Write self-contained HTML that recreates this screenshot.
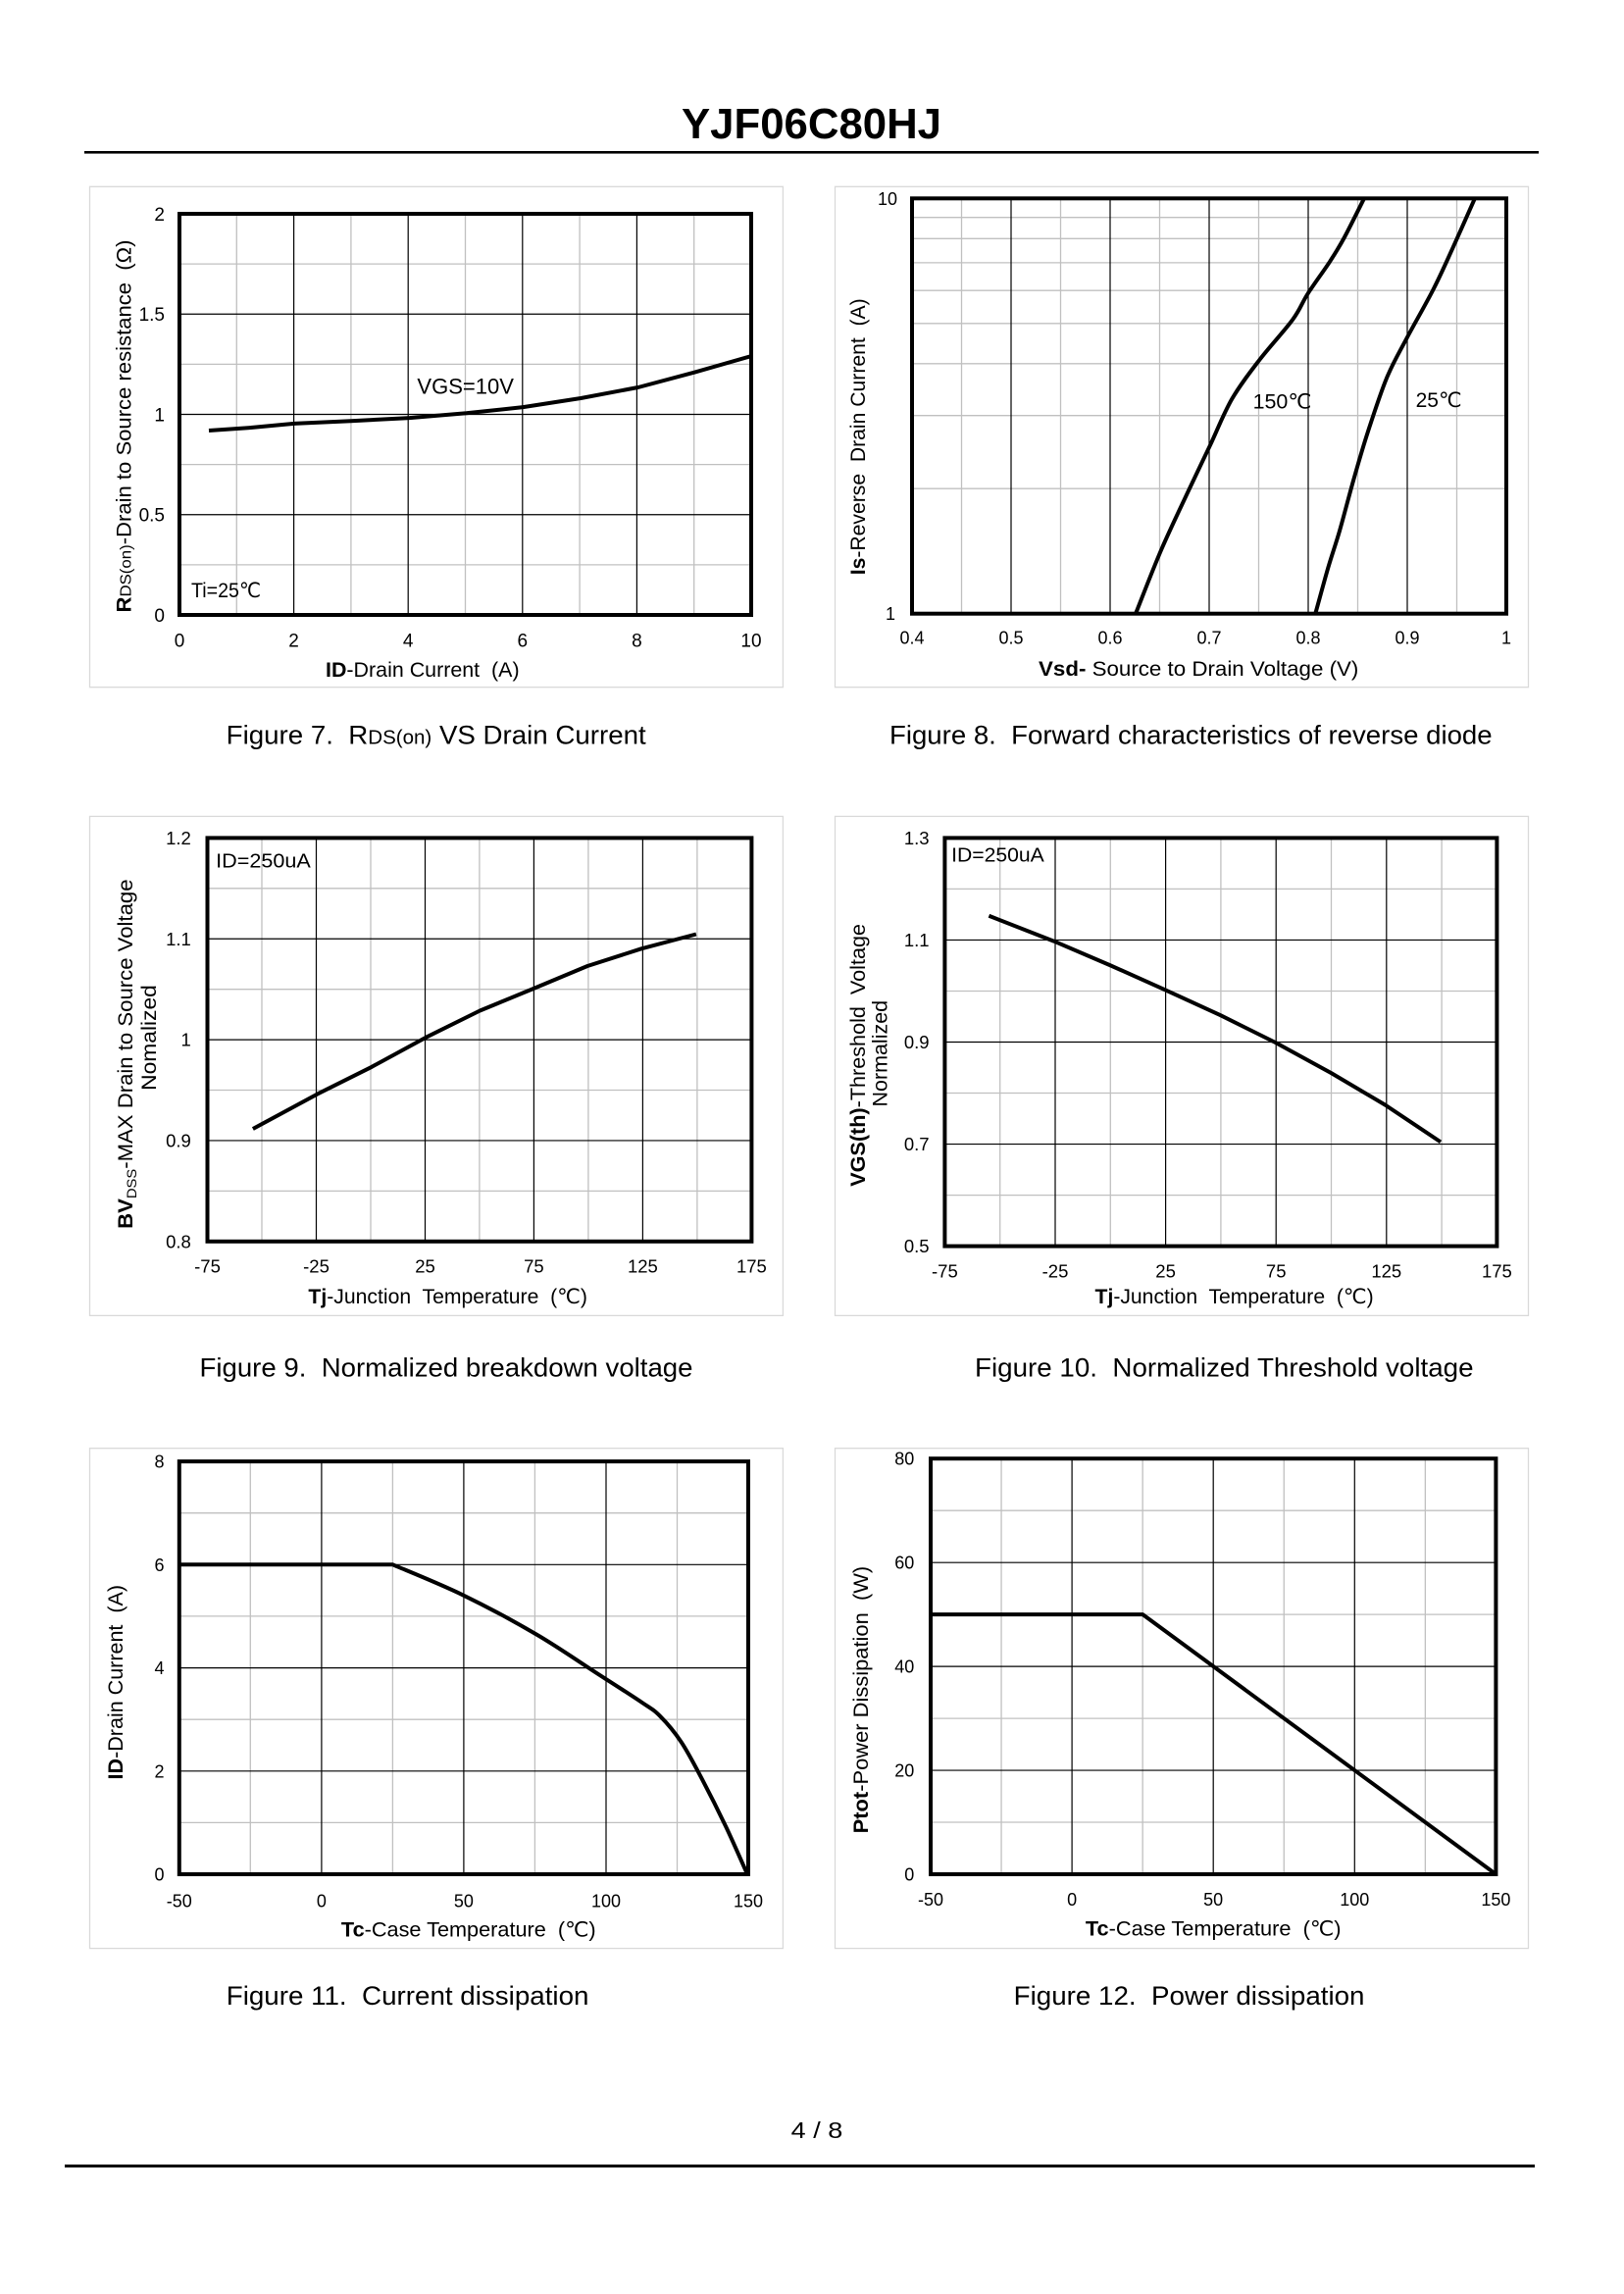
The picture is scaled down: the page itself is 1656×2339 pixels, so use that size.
<!DOCTYPE html>
<html><head><meta charset="utf-8"><title>YJF06C80HJ</title>
<style>
html,body{margin:0;padding:0;background:#fff;}
svg{display:block;}
text{font-family:"Liberation Sans","DejaVu Sans","Noto Sans CJK SC",sans-serif;fill:#000;}
.mn{stroke:#c0c0c0;stroke-width:1.3;fill:none;}
.mj{stroke:#000;stroke-width:1.2;fill:none;}
.bx{fill:none;stroke:#d9d9d9;stroke-width:1.3;}
.pl{fill:none;stroke:#000;stroke-width:4;}
.cv{fill:none;stroke:#000;stroke-width:4;stroke-linejoin:round;}
</style></head><body>
<svg width="1656" height="2339" viewBox="0 0 1656 2339" xmlns="http://www.w3.org/2000/svg">
<rect width="1656" height="2339" fill="#fff"/>

<!-- Header -->
<text x="827.5" y="141" text-anchor="middle" font-size="44" font-weight="bold" textLength="265" lengthAdjust="spacingAndGlyphs">YJF06C80HJ</text>
<rect x="86" y="154" width="1483" height="2.6" fill="#000"/>

<!-- ===== Chart 7 ===== -->
<rect class="bx" x="91.5" y="190.3" width="706.9" height="510.4"/>
<path class="mn" d="M241.3 218V627M357.9 218V627M474.5 218V627M591.1 218V627M707.7 218V627M183 575.9H766M183 473.6H766M183 371.4H766M183 269.1H766"/>
<path class="mj" d="M299.6 218V627M416.2 218V627M532.8 218V627M649.4 218V627M183 524.75H766M183 422.5H766M183 320.25H766"/>
<polyline class="cv" points="213,439 256,436 300,431.9 358,429.2 417.7,426.1 475.6,421.3 533.4,415.1 592.3,406 650.6,395 708,379.7 766.4,363"/>
<rect class="pl" x="183" y="218" width="583" height="409"/>
<g font-size="19" text-anchor="end">
<text x="168" y="633.8">0</text><text x="168" y="531.5">0.5</text><text x="168" y="429.3">1</text><text x="168" y="327">1.5</text><text x="168" y="224.8">2</text>
</g>
<g font-size="19" text-anchor="middle">
<text x="183" y="659.5">0</text><text x="299.6" y="659.5">2</text><text x="416.2" y="659.5">4</text><text x="532.8" y="659.5">6</text><text x="649.4" y="659.5">8</text><text x="766" y="659.5">10</text>
</g>
<text x="430.8" y="690" text-anchor="middle" font-size="21" textLength="197.6" lengthAdjust="spacingAndGlyphs"><tspan font-weight="bold">ID</tspan>-Drain Current&#160; (A)</text>
<text transform="translate(133.5,434.5) rotate(-90)" text-anchor="middle" font-size="21" textLength="380" lengthAdjust="spacingAndGlyphs"><tspan font-weight="bold">R</tspan><tspan font-size="16">DS(on)</tspan>-Drain to Source resistance&#160; (Ω)</text>
<text x="425.4" y="401.3" font-size="22" textLength="98.6" lengthAdjust="spacingAndGlyphs">VGS=10V</text>
<text x="195" y="609" font-size="21" textLength="71" lengthAdjust="spacingAndGlyphs">Ti=25℃</text>
<text x="444.7" y="758.5" text-anchor="middle" font-size="27" textLength="428" lengthAdjust="spacingAndGlyphs">Figure 7.&#160; R<tspan font-size="20">DS(on)</tspan> VS Drain Current</text>

<!-- ===== Chart 8 ===== -->
<rect class="bx" x="851.5" y="190.3" width="707" height="510.4"/>
<path class="mn" d="M980.5 202.3V625.7M1081.5 202.3V625.7M1182.5 202.3V625.7M1283.5 202.3V625.7M1384.5 202.3V625.7M1485.5 202.3V625.7M930 498.2H1536M930 423.7H1536M930 370.8H1536M930 329.8H1536M930 296.2H1536M930 267.9H1536M930 243.3H1536M930 221.7H1536"/>
<path class="mj" d="M1031 202.3V625.7M1132 202.3V625.7M1233 202.3V625.7M1334 202.3V625.7M1435 202.3V625.7"/>
<path class="cv" d="M1158.1 625.6C1162.5 614.7 1175.2 581.3 1184.4 560C1193.6 538.7 1204.9 515.4 1213.1 497.9C1221.3 480.4 1226.4 470 1233.6 454.8C1240.8 439.7 1247.6 421.8 1256.1 407C1264.6 392.3 1274.4 379.9 1284.8 366.3C1295.2 352.8 1310.2 336.9 1318.3 325.7C1326.4 314.6 1327.2 309.4 1333.6 299.4C1340 289.4 1350.4 275.5 1356.6 265.9C1362.8 256.3 1365.2 252.6 1370.9 242C1376.6 231.4 1387.7 208.9 1391 202.3"/>
<path class="cv" d="M1341.3 625.6C1343.5 617.9 1350.1 593.3 1354.2 579.2C1358.3 565.1 1361.7 556.1 1366.1 540.9C1370.5 525.8 1375.7 505 1380.5 488.3C1385.3 471.6 1389.2 457.6 1394.8 440.5C1400.4 423.4 1407.4 401.5 1414 385.5C1420.6 369.6 1426.5 360 1434.5 344.8C1442.5 329.7 1454.1 309.8 1461.8 294.6C1469.5 279.5 1473.9 269.3 1480.9 253.9C1487.9 238.5 1500.1 210.9 1503.9 202.3"/>
<rect class="pl" x="930" y="202.3" width="606" height="423.4"/>
<text x="915" y="208.8" font-size="18" text-anchor="end">10</text>
<text x="913" y="632.2" font-size="18" text-anchor="end">1</text>
<g font-size="18" text-anchor="middle">
<text x="930" y="656.5">0.4</text><text x="1031" y="656.5">0.5</text><text x="1132" y="656.5">0.6</text><text x="1233" y="656.5">0.7</text><text x="1334" y="656.5">0.8</text><text x="1435" y="656.5">0.9</text><text x="1536" y="656.5">1</text>
</g>
<text x="1222.2" y="689.2" text-anchor="middle" font-size="21" textLength="326.3" lengthAdjust="spacingAndGlyphs"><tspan font-weight="bold">Vsd-</tspan> Source to Drain Voltage (V)</text>
<text transform="translate(882,445.3) rotate(-90)" text-anchor="middle" font-size="21" textLength="282" lengthAdjust="spacingAndGlyphs"><tspan font-weight="bold">Is</tspan>-Reverse&#160; Drain Current&#160; (A)</text>
<text x="1277.6" y="416.6" font-size="21" textLength="59.8" lengthAdjust="spacingAndGlyphs">150℃</text>
<text x="1443.6" y="415" font-size="21" textLength="47" lengthAdjust="spacingAndGlyphs">25℃</text>
<text x="1214.3" y="758.5" text-anchor="middle" font-size="27" textLength="614.6" lengthAdjust="spacingAndGlyphs">Figure 8.&#160; Forward characteristics of reverse diode</text>

<!-- ===== Chart 9 ===== -->
<rect class="bx" x="91.5" y="832.4" width="706.9" height="509"/>
<path class="mn" d="M267 854.4V1265.8M378 854.4V1265.8M488.9 854.4V1265.8M599.9 854.4V1265.8M710.9 854.4V1265.8M211.5 1214.4H766.4M211.5 1111.5H766.4M211.5 1008.7H766.4M211.5 905.8H766.4"/>
<path class="mj" d="M322.5 854.4V1265.8M433.5 854.4V1265.8M544.4 854.4V1265.8M655.4 854.4V1265.8M211.5 1162.95H766.4M211.5 1060.1H766.4M211.5 957.25H766.4"/>
<polyline class="cv" points="257.9,1151 323.5,1115.6 378.9,1087.9 434.4,1057.7 489.4,1030.5 544,1008 599,985 654,967.3 709.9,952.5"/>
<rect class="pl" x="211.5" y="854.4" width="554.9" height="411.4"/>
<g font-size="18.5" text-anchor="end">
<text x="194.8" y="1272.4">0.8</text><text x="194.8" y="1169.6">0.9</text><text x="194.8" y="1066.7">1</text><text x="194.8" y="963.9">1.1</text><text x="194.8" y="861">1.2</text>
</g>
<g font-size="18.5" text-anchor="middle">
<text x="211.5" y="1297.6">-75</text><text x="322.5" y="1297.6">-25</text><text x="433.5" y="1297.6">25</text><text x="544.4" y="1297.6">75</text><text x="655.4" y="1297.6">125</text><text x="766.4" y="1297.6">175</text>
</g>
<text x="456.7" y="1329" text-anchor="middle" font-size="21" textLength="284.6" lengthAdjust="spacingAndGlyphs"><tspan font-weight="bold">Tj</tspan>-Junction&#160; Temperature&#160; (℃)</text>
<text transform="translate(135,1074.7) rotate(-90)" text-anchor="middle" font-size="21" textLength="356.4" lengthAdjust="spacingAndGlyphs"><tspan font-weight="bold">BV</tspan><tspan font-size="14" dy="4">DSS</tspan><tspan dy="-4">-MAX Drain to Source Voltage</tspan></text>
<text transform="translate(159,1058) rotate(-90)" text-anchor="middle" font-size="21" textLength="107.7" lengthAdjust="spacingAndGlyphs">Nomalized</text>
<text x="220.1" y="884.6" font-size="20" textLength="96.7" lengthAdjust="spacingAndGlyphs">ID=250uA</text>
<text x="455" y="1403.5" text-anchor="middle" font-size="27" textLength="503" lengthAdjust="spacingAndGlyphs">Figure 9.&#160; Normalized breakdown voltage</text>

<!-- ===== Chart 10 ===== -->
<rect class="bx" x="851.5" y="832.4" width="707" height="509"/>
<path class="mn" d="M1019.7 854.4V1270.6M1132.3 854.4V1270.6M1244.9 854.4V1270.6M1357.5 854.4V1270.6M1470.1 854.4V1270.6M963.4 1218.6H1526.4M963.4 1114.5H1526.4M963.4 1010.5H1526.4M963.4 906.4H1526.4"/>
<path class="mj" d="M1076 854.4V1270.6M1188.6 854.4V1270.6M1301.2 854.4V1270.6M1413.8 854.4V1270.6M963.4 1166.55H1526.4M963.4 1062.5H1526.4M963.4 958.45H1526.4"/>
<polyline class="cv" points="1008.4,933.8 1074.8,959.7 1131.8,984.1 1187.3,1008.9 1244.6,1035.2 1300.6,1063 1357.5,1094.1 1412.5,1126.6 1469,1164.4"/>
<rect class="pl" x="963.4" y="854.4" width="563" height="416.2"/>
<g font-size="18.5" text-anchor="end">
<text x="947.6" y="1277.2">0.5</text><text x="947.6" y="1173.1">0.7</text><text x="947.6" y="1069.1">0.9</text><text x="947.6" y="965.1">1.1</text><text x="947.6" y="861">1.3</text>
</g>
<g font-size="18.5" text-anchor="middle">
<text x="963.4" y="1302.5">-75</text><text x="1076" y="1302.5">-25</text><text x="1188.6" y="1302.5">25</text><text x="1301.2" y="1302.5">75</text><text x="1413.8" y="1302.5">125</text><text x="1526.4" y="1302.5">175</text>
</g>
<text x="1258.6" y="1329" text-anchor="middle" font-size="21" textLength="284.1" lengthAdjust="spacingAndGlyphs"><tspan font-weight="bold">Tj</tspan>-Junction&#160; Temperature&#160; (℃)</text>
<text transform="translate(882,1075.9) rotate(-90)" text-anchor="middle" font-size="21" textLength="267.8" lengthAdjust="spacingAndGlyphs"><tspan font-weight="bold">VGS(th)</tspan>-Threshold&#160; Voltage</text>
<text transform="translate(904.5,1074.2) rotate(-90)" text-anchor="middle" font-size="21" textLength="108.6" lengthAdjust="spacingAndGlyphs">Normalized</text>
<text x="970.1" y="878.4" font-size="20" textLength="94.7" lengthAdjust="spacingAndGlyphs">ID=250uA</text>
<text x="1248.3" y="1403.5" text-anchor="middle" font-size="27" textLength="508.5" lengthAdjust="spacingAndGlyphs">Figure 10.&#160; Normalized Threshold voltage</text>

<!-- ===== Chart 11 ===== -->
<rect class="bx" x="91.5" y="1476.7" width="706.9" height="509.9"/>
<path class="mn" d="M255.3 1490.1V1911M400.4 1490.1V1911M545.4 1490.1V1911M690.5 1490.1V1911M182.8 1858.4H763M182.8 1753.2H763M182.8 1647.9H763M182.8 1542.7H763"/>
<path class="mj" d="M327.9 1490.1V1911M472.9 1490.1V1911M618 1490.1V1911M182.8 1805.8H763M182.8 1700.6H763M182.8 1595.3H763"/>
<path class="cv" d="M182.8 1595.3L400.5 1595.3C412.5 1600.5 447.9 1614.6 472.2 1626.4C496.5 1638.2 524.1 1653.1 546.4 1666.1C568.7 1679.1 588.2 1692.8 606.1 1704.4C624 1716 642.8 1727.9 654 1735.5C665.2 1743.1 666.3 1743 673.1 1749.8C679.9 1756.6 687.4 1765.3 694.6 1776.1C701.8 1786.9 708.5 1800.1 716.1 1814.4C723.7 1828.8 732.5 1846.3 740.1 1862.2C747.7 1878.1 758 1902 761.6 1910"/>
<rect class="pl" x="182.8" y="1490.1" width="580.2" height="420.9"/>
<g font-size="18" text-anchor="end">
<text x="167.5" y="1917.5">0</text><text x="167.5" y="1812.3">2</text><text x="167.5" y="1707.1">4</text><text x="167.5" y="1601.8">6</text><text x="167.5" y="1496.6">8</text>
</g>
<g font-size="18" text-anchor="middle">
<text x="182.8" y="1944.3">-50</text><text x="327.9" y="1944.3">0</text><text x="472.9" y="1944.3">50</text><text x="618" y="1944.3">100</text><text x="763" y="1944.3">150</text>
</g>
<text x="477.8" y="1974.6" text-anchor="middle" font-size="21" textLength="259.7" lengthAdjust="spacingAndGlyphs"><tspan font-weight="bold">Tc</tspan>-Case Temperature&#160; (℃)</text>
<text transform="translate(125,1715.2) rotate(-90)" text-anchor="middle" font-size="21" textLength="198.5" lengthAdjust="spacingAndGlyphs"><tspan font-weight="bold">ID</tspan>-Drain Current&#160; (A)</text>
<text x="415.6" y="2044" text-anchor="middle" font-size="27" textLength="369.7" lengthAdjust="spacingAndGlyphs">Figure 11.&#160; Current dissipation</text>

<!-- ===== Chart 12 ===== -->
<rect class="bx" x="851.5" y="1476.7" width="707" height="509.9"/>
<path class="mn" d="M1021.05 1487.2V1911M1165.15 1487.2V1911M1309.25 1487.2V1911M1453.35 1487.2V1911M949 1858H1525.4M949 1752.1H1525.4M949 1646.1H1525.4M949 1540.2H1525.4"/>
<path class="mj" d="M1093.1 1487.2V1911M1237.2 1487.2V1911M1381.3 1487.2V1911M949 1805.05H1525.4M949 1699.1H1525.4M949 1593.2H1525.4"/>
<polyline class="cv" points="949,1646.1 1165.2,1646.1 1525.4,1911"/>
<rect class="pl" x="949" y="1487.2" width="576.4" height="423.8"/>
<g font-size="18" text-anchor="end">
<text x="932.3" y="1917.5">0</text><text x="932.3" y="1811.5">20</text><text x="932.3" y="1705.6">40</text><text x="932.3" y="1599.7">60</text><text x="932.3" y="1493.7">80</text>
</g>
<g font-size="18" text-anchor="middle">
<text x="949" y="1942.8">-50</text><text x="1093.1" y="1942.8">0</text><text x="1237.2" y="1942.8">50</text><text x="1381.3" y="1942.8">100</text><text x="1525.4" y="1942.8">150</text>
</g>
<text x="1237.2" y="1973.7" text-anchor="middle" font-size="21" textLength="260.7" lengthAdjust="spacingAndGlyphs"><tspan font-weight="bold">Tc</tspan>-Case Temperature&#160; (℃)</text>
<text transform="translate(885,1733.1) rotate(-90)" text-anchor="middle" font-size="21" textLength="272.6" lengthAdjust="spacingAndGlyphs"><tspan font-weight="bold">Ptot</tspan>-Power Dissipation&#160; (W)</text>
<text x="1212.6" y="2044" text-anchor="middle" font-size="27" textLength="357.8" lengthAdjust="spacingAndGlyphs">Figure 12.&#160; Power dissipation</text>

<!-- Footer -->
<text x="833" y="2180" text-anchor="middle" font-size="23" textLength="52.6" lengthAdjust="spacingAndGlyphs">4 / 8</text>
<rect x="66" y="2207" width="1499" height="3" fill="#000"/>
</svg>
</body></html>
